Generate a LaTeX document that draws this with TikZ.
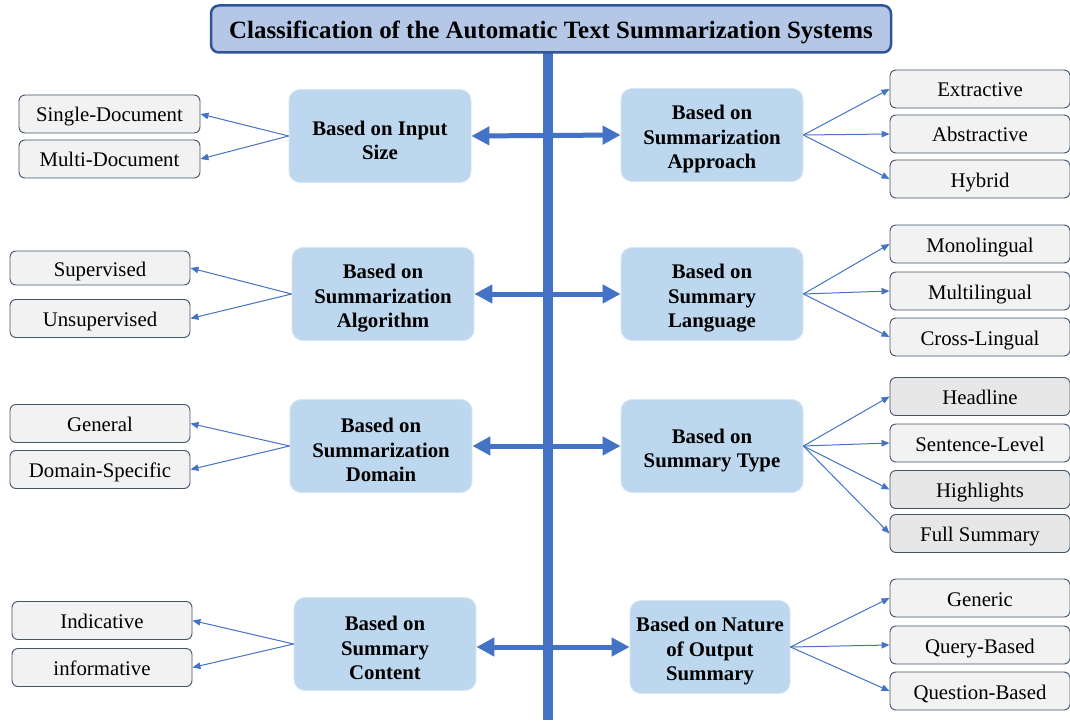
\documentclass[tikz,border=0pt]{standalone}
\usepackage{fontspec}
\setmainfont{Liberation Serif}
\usetikzlibrary{arrows.meta}
\definecolor{spineblue}{HTML}{4472C4}
\definecolor{titlefill}{HTML}{B4C7E7}
\definecolor{titleline}{HTML}{2F5597}
\definecolor{catfill}{HTML}{BDD7EE}
\definecolor{catline}{HTML}{D6E5F4}
\definecolor{leaffill}{HTML}{F2F2F2}
\definecolor{leafdark}{HTML}{E7E7E7}
\definecolor{leafline}{HTML}{44546A}
% tall strut that lowers the text block inside a category box
\newcommand\catlead{\rule{0pt}{23pt}}
\tikzset{
  titlebox/.style={rounded corners=8pt, fill=titlefill, draw=titleline, line width=2.5pt,
    font=\fontsize{24.9}{28}\selectfont\bfseries, inner sep=0pt,
    text height=20pt, text depth=1pt},
  catbox/.style={rounded corners=11pt, fill=catfill, draw=catline, line width=0.8pt,
    align=center, font=\fontsize{20.8}{24.5}\selectfont\bfseries, inner sep=0pt,
    minimum width=182pt, minimum height=93pt},
  leafbox/.style={rounded corners=6pt, fill=leaffill, draw=leafline, line width=0.9pt,
    font=\fontsize{20.8}{24}\selectfont, inner sep=0pt, minimum width=180pt, minimum height=38pt,
    text height=17pt, text depth=1pt},
  darkleaf/.style={leafbox, fill=leafdark},
  bigarrow/.style={draw=spineblue, line width=5pt,
    {Triangle[length=18pt,width=18pt]}-{Triangle[length=18pt,width=18pt]}},
  thinarrow/.style={draw=spineblue, line width=1pt, -{Triangle[length=8pt,width=6.5pt]}}
}
\begin{document}
\begin{tikzpicture}[x=1pt,y=-1pt]
\useasboundingbox (0,0) rectangle (1070,722);

% central spine
\fill[spineblue] (543,50) rectangle (553,720);

% title
\node[titlebox, minimum width=680pt, minimum height=47pt] (title) at (551,29)
  {Classification of the Automatic Text Summarization Systems};

% category boxes, left column
\node[catbox] (insize) at (380,136) {\catlead Based on Input\\Size};
\node[catbox] (algo)   at (383,294) {\catlead Based on\\Summarization\\Algorithm};
\node[catbox] (domain) at (381,446) {\catlead Based on\\Summarization\\Domain};
\node[catbox] (content) at (385,644) {\catlead Based on\\Summary\\Content};

% category boxes, right column
\node[catbox] (approach) at (712,135) {\catlead Based on\\Summarization\\Approach};
\node[catbox] (lang)     at (712,294) {\catlead Based on\\Summary\\Language};
\node[catbox] (stype)    at (712,446) {\catlead Based on\\Summary Type};
\node[catbox, minimum width=160pt] (nature) at (710,647) {\catlead Based on Nature\\of Output\\Summary};

% double-headed links through the spine
\draw[bigarrow] (insize.east) -- (approach.west);
\draw[bigarrow] (algo.east) -- (lang.west);
\draw[bigarrow] (domain.east) -- (stype.west);
\draw[bigarrow] (content.east |- nature.west) -- (nature.west);

% leaves, left
\node[leafbox, minimum width=181pt] (single) at (109.5,114) {Single-Document};
\node[leafbox, minimum width=181pt] (multi)  at (109.5,159) {Multi-Document};
\node[leafbox, minimum height=34pt] (sup)    at (100,268) {Supervised};
\node[leafbox] (unsup)  at (100,318.5) {Unsupervised};
\node[leafbox] (general) at (100,423.5) {General};
\node[leafbox] (dspec)  at (100,469.5) {Domain-Specific};
\node[leafbox] (indic)  at (102,620.5) {Indicative};
\node[leafbox] (inform) at (102,667.5) {informative};

% leaves, right
\node[leafbox] (extr)  at (980,89)  {Extractive};
\node[leafbox] (abstr) at (980,134) {Abstractive};
\node[leafbox] (hybr)  at (980,179) {Hybrid};
\node[leafbox] (mono)  at (980,244) {Monolingual};
\node[leafbox] (multil) at (980,291) {Multilingual};
\node[leafbox] (cross) at (980,337) {Cross-Lingual};
\node[darkleaf] (head) at (980,396.5) {Headline};
\node[leafbox] (sent)  at (980,443)  {Sentence-Level};
\node[darkleaf] (high) at (980,489.5) {Highlights};
\node[darkleaf] (full) at (980,533.5) {Full Summary};
\node[leafbox] (gen)   at (980,598)  {Generic};
\node[leafbox] (query) at (980,645)  {Query-Based};
\node[leafbox] (quest) at (980,691)  {Question-Based};

% fan-out connectors, left
\draw[thinarrow] (insize.west) -- (single.east);
\draw[thinarrow] (insize.west) -- (multi.east);
\draw[thinarrow] (algo.west) -- (sup.east);
\draw[thinarrow] (algo.west) -- (unsup.east);
\draw[thinarrow] (domain.west) -- (general.east);
\draw[thinarrow] (domain.west) -- (dspec.east);
\draw[thinarrow] (content.west) -- (indic.east);
\draw[thinarrow] (content.west) -- (inform.east);

% fan-out connectors, right
\foreach \t in {extr,abstr,hybr} \draw[thinarrow] (approach.east) -- (\t.west);
\foreach \t in {mono,multil,cross} \draw[thinarrow] (lang.east) -- (\t.west);
\foreach \t in {head,sent,high,full} \draw[thinarrow] (stype.east) -- (\t.west);
\foreach \t in {gen,query,quest} \draw[thinarrow] (nature.east) -- (\t.west);
\end{tikzpicture}
\end{document}
